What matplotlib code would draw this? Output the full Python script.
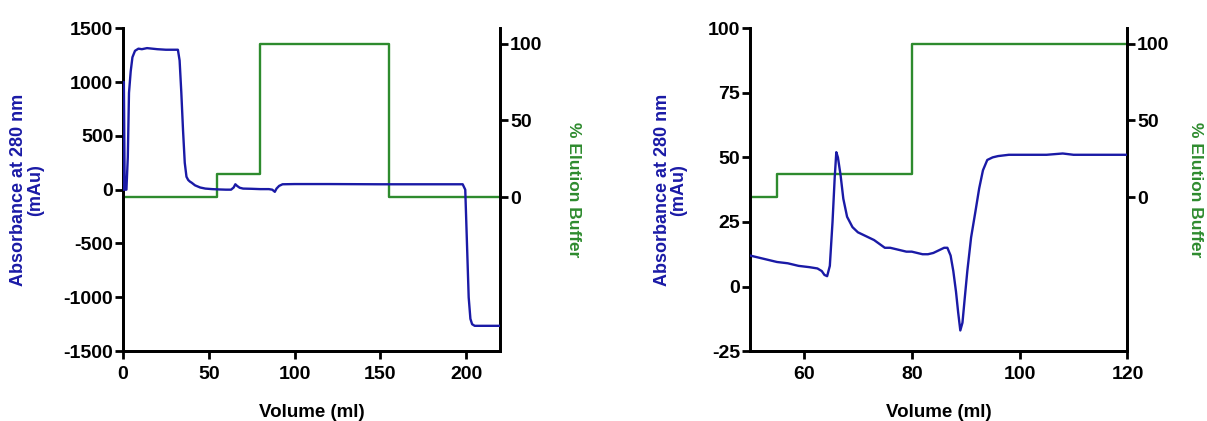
import matplotlib
matplotlib.use("Agg")
import matplotlib.pyplot as plt
import numpy as np

plt.rcParams["axes.unicode_minus"] = False

# left panel: full run
vol_full = [0, 0.5, 1, 2, 2.8, 3.5, 4.5, 5.5, 7, 9, 11, 14, 17, 20, 25, 30, 32, 33, 34, 35, 36, 37, 38, 39,
            40, 42, 45, 48, 52, 56, 60, 63, 64.5, 65.5, 66.5, 68, 70, 75, 80, 85, 87, 88.5, 89.5, 91, 93, 100,
            120, 150, 180, 198, 199.5, 200.5, 201.5, 202.5, 203.5, 205, 210, 220]
abs_full = [0, 1000, 0, 0, 300, 900, 1100, 1230, 1290, 1310, 1305, 1315, 1310, 1305, 1300, 1300, 1300, 1200,
            900, 550, 250, 120, 90, 75, 65, 40, 20, 10, 5, 2, 0, 0, 20, 50, 35, 18, 10, 8, 5, 5, 0, -20, 10,
            35, 50, 52, 52, 50, 50, 50, 0, -500, -1000, -1200, -1250, -1265, -1265, -1265]
vol_buf_full = [0, 55, 55, 80, 80, 155, 155, 220]
buf_full = [0, 0, 15, 15, 100, 100, 0, 0]

# right panel: zoom on elution
vol_zoom = [50, 52, 54, 55, 57, 59, 61, 62.5, 63.3, 63.8, 64.3, 64.8, 65.3, 65.7, 66, 66.3, 66.8, 67.3, 68,
            69, 70, 71, 72, 73, 74, 75, 76, 77, 78, 79, 80, 81, 82, 83, 84, 85, 86, 86.6, 87.2, 87.7, 88.2,
            88.6, 89, 89.4, 89.8, 90.3, 91, 91.8, 92.5, 93.2, 94, 95, 96, 98, 100, 105, 108, 110, 115, 118, 120]
abs_zoom = [12, 11, 10, 9.5, 9, 8, 7.5, 7, 6, 4.5, 4, 8, 25, 42, 52, 50, 43, 34, 27, 23, 21, 20, 19, 18,
            16.5, 15, 15, 14.5, 14, 13.5, 13.5, 13, 12.5, 12.5, 13, 14, 15, 15, 12, 6, -2, -10, -17, -14, -5,
            6, 19, 29, 38, 45, 49, 50, 50.5, 51, 51, 51, 51.5, 51, 51, 51, 51]
vol_buf_zoom = [50, 55, 55, 80, 80, 120]
buf_zoom = [0, 0, 15, 15, 100, 100]

blue = "#1a1aa6"
green = "#2e8b2e"
font = ["Liberation Sans", "DejaVu Sans"]

fig = plt.figure(figsize=(12.07, 4.21), dpi=100)

panels = [
    (0.1019, vol_full, abs_full, vol_buf_full, buf_full, (0, 220), [0, 50, 100, 150, 200],
     (-1500, 1500), [-1500, -1000, -500, 0, 500, 1000, 1500], -0.21, 1.175),
    (0.6214, vol_zoom, abs_zoom, vol_buf_zoom, buf_zoom, (50, 120), [60, 80, 100, 120],
     (-25, 100), [-25, 0, 25, 50, 75, 100], -0.167, 1.16),
]

for left, vx, vy, bx, by, xlim, xticks, ylim, yticks, lab_x, lab_x2 in panels:
    ax = fig.add_axes([left, 0.166, 0.3127, 0.767])
    ax2 = ax.twinx()
    ax2.plot(bx, by, color=green, lw=1.7)
    ax.plot(vx, vy, color=blue, lw=1.7, zorder=3)
    ax.set_zorder(ax2.get_zorder() + 1)
    ax.patch.set_visible(False)

    ax.set_xlim(*xlim)
    ax.set_ylim(*ylim)
    ax.set_xticks(xticks)
    ax.set_yticks(yticks)
    ax2.set_ylim(-100, 110)
    ax2.set_yticks([0, 50, 100])

    for a in (ax, ax2):
        a.spines["top"].set_visible(False)
        for s in a.spines.values():
            s.set_linewidth(2)
        a.tick_params(width=2, length=6, direction="out")
        for lab in a.get_xticklabels() + a.get_yticklabels():
            lab.set_fontfamily(font)
            lab.set_fontweight("bold")
            lab.set_fontsize(14)
    ax.tick_params(axis="y", pad=1)
    ax.tick_params(axis="x", pad=5)
    ax2.tick_params(axis="y", pad=1)

    ax.set_xlabel("Volume (ml)", fontfamily=font, fontweight="bold", fontsize=13.5)
    ax.xaxis.set_label_coords(0.5, -0.165)
    ax.set_ylabel("Absorbance at 280 nm\n(mAu)", color=blue, fontweight="bold", fontsize=13,
                  fontfamily=font, linespacing=0.95)
    ax.yaxis.set_label_coords(lab_x, 0.5)
    ax2.set_ylabel("% Elution Buffer", color=green, fontweight="bold", fontsize=12.5,
                   fontfamily=font, rotation=270, va="bottom")
    ax2.yaxis.set_label_coords(lab_x2, 0.5)

fig.savefig("out.png", dpi=100)
